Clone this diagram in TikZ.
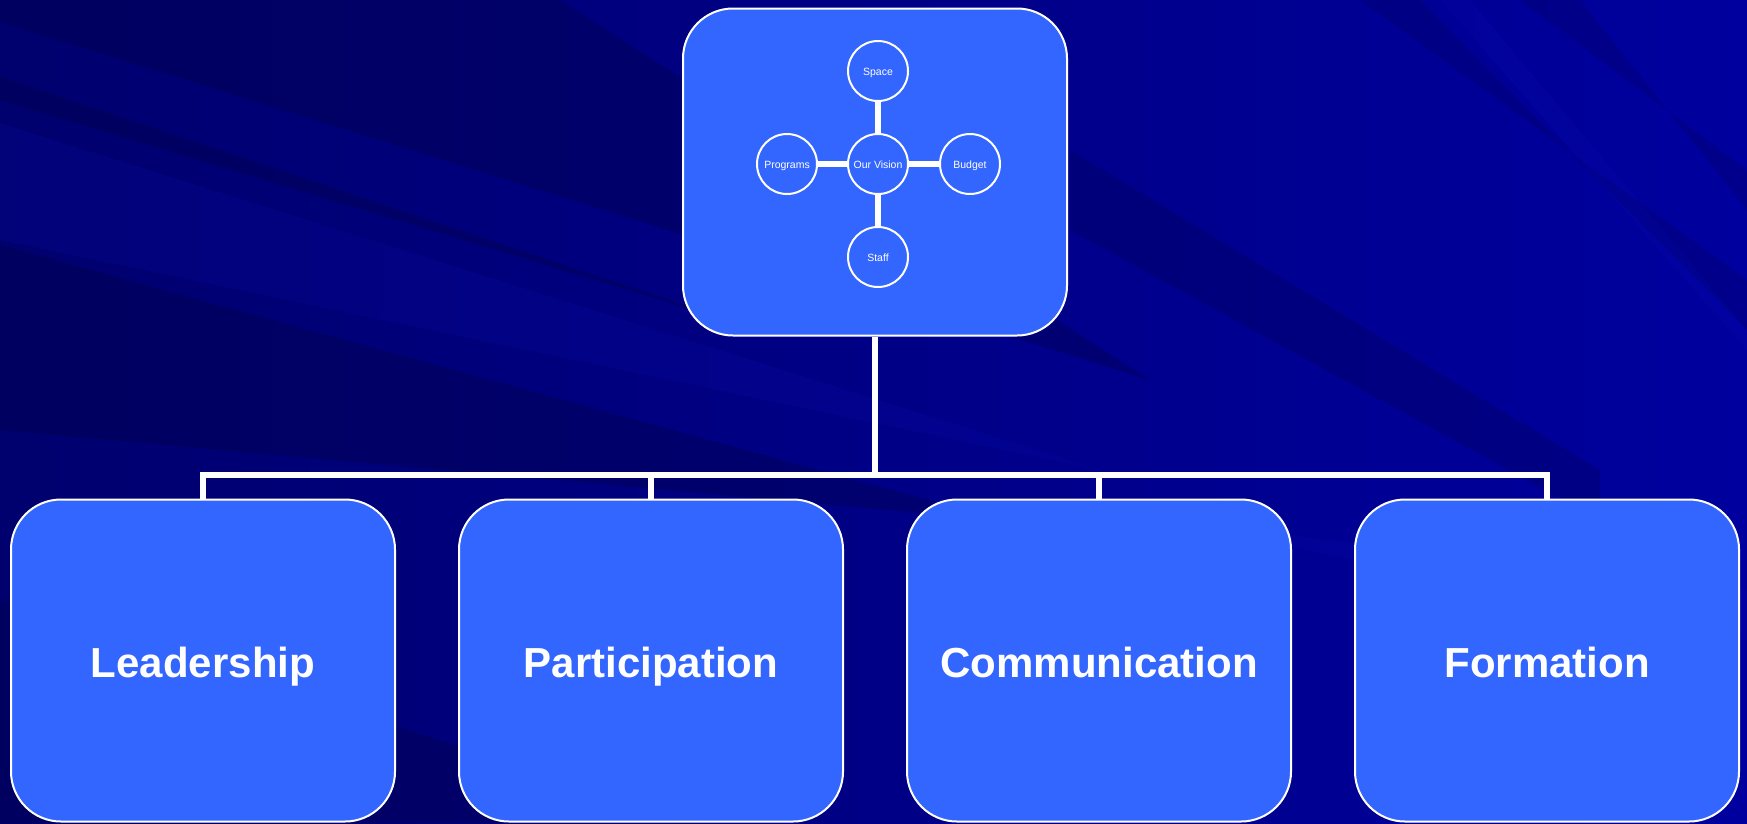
\documentclass[tikz,border=0pt]{standalone}
\usepackage{fontspec}
\setmainfont{Liberation Sans}
\definecolor{boxblue}{RGB}{51,102,255}
\definecolor{bgdark}{RGB}{0,0,70}
\definecolor{bglight}{RGB}{20,20,185}
\begin{document}
\begin{tikzpicture}[x=1pt,y=-1pt,
  box/.style={draw=white, line width=2pt, fill=boxblue, rounded corners=50pt,
    minimum width=384pt, minimum height=322pt, inner sep=0pt, text=white,
    text height=42.6pt, text depth=9pt,
    font=\bfseries\fontsize{42}{50}\selectfont},
  topbox/.style={draw=white, line width=2pt, fill=boxblue, rounded corners=50pt,
    minimum width=384pt, minimum height=327pt, inner sep=0pt},
  bubble/.style={circle, draw=white, line width=2pt, fill=boxblue, minimum size=60pt,
    inner sep=0pt, text=white, text height=10.5pt, text depth=2.5pt,
    font=\fontsize{10.5}{12}\selectfont},
  bus/.style={draw=white, line width=6pt},
  spoke/.style={draw=white, line width=6pt},
  darkband/.style={fill=bgdark, opacity=0.35},
  lightband/.style={fill=bglight, opacity=0.15}]
\useasboundingbox (0,0) rectangle (1747,823);
% background
\begin{scope}
\clip (0,0) rectangle (1747,823);
\shade[left color={rgb,255:red,0;green,0;blue,110}, right color={rgb,255:red,0;green,0;blue,158}] (0,0) rectangle (1747,823);
\fill[darkband] (0,0) -- (560,0) -- (1150,380) -- (0,22) -- cycle;
\fill[darkband] (0,77) -- (760,330) -- (0,100) -- cycle;
\fill[darkband] (0,245) -- (1000,520) -- (0,430) -- cycle;
\fill[darkband] (0,600) -- (700,823) -- (0,823) -- cycle;
\fill[darkband, opacity=0.25] (1070,150) -- (1600,470) -- (1600,520) -- (1070,230) -- cycle;
\fill[darkband, opacity=0.2] (1360,0) -- (1420,0) -- (1747,330) -- (1747,280) -- cycle;
\fill[darkband, opacity=0.2] (1520,0) -- (1580,0) -- (1747,210) -- (1747,170) -- cycle;
\fill[lightband] (1160,520) -- (1747,590) -- (1747,640) -- cycle;
\fill[lightband] (1440,0) -- (1470,0) -- (1747,330) -- (1747,350) -- cycle;
\fill[lightband] (0,123) -- (1100,470) -- (0,240) -- cycle;
\end{scope}
% top box
\node[topbox] (top) at (875,172) {};
\node[bubble] (vis) at (878,164) {Our Vision};
\node[bubble] (space) at (878,71) {Space};
\node[bubble] (staff) at (878,257) {Staff};
\node[bubble] (prog) at (787,164) {Programs};
\node[bubble] (budg) at (970,164) {Budget};
\draw[spoke] (vis) -- (space);
\draw[spoke] (vis) -- (staff);
\draw[spoke] (vis) -- (prog);
\draw[spoke] (vis) -- (budg);
% bottom boxes
\node[box] (lead) at (203,660.5) {Leadership};
\node[box] (part) at (651,660.5) {Participation};
\node[box] (comm) at (1099,660.5) {Communication};
\node[box] (form) at (1547,660.5) {Formation};
% bus
\coordinate (busL) at (203,475);
\coordinate (busR) at (1547,475);
\draw[bus] (lead.north) -- (busL) -- (busR) -- (form.north);
\draw[bus] (top.south) -- (top.south |- busL);
\draw[bus] (part.north) -- (part.north |- busL);
\draw[bus] (comm.north) -- (comm.north |- busL);
\end{tikzpicture}
\end{document}
